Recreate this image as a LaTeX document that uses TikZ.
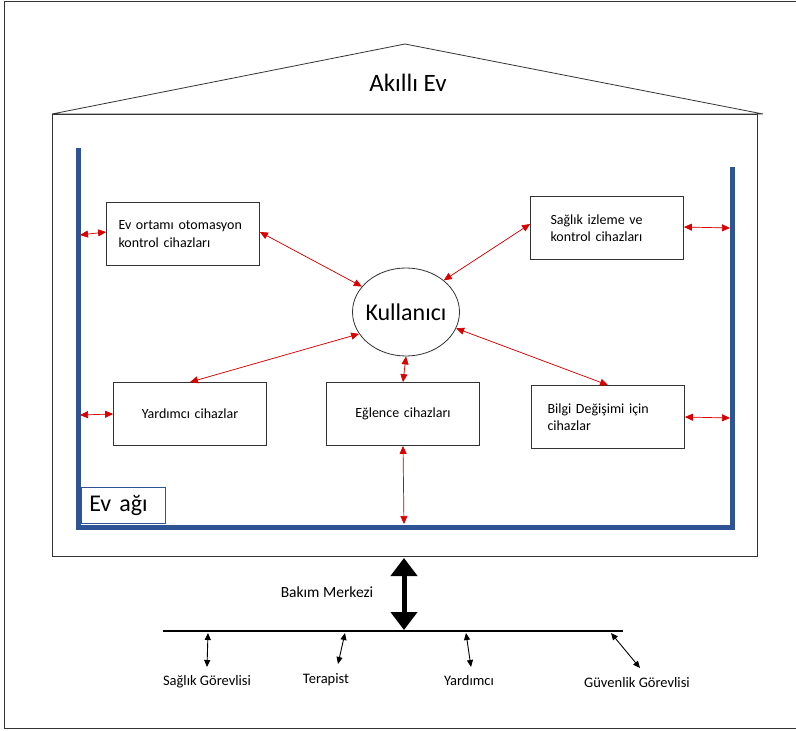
\documentclass[tikz,border=0pt]{standalone}
\usepackage{fontspec}
\setmainfont{Carlito}
\usetikzlibrary{arrows.meta,shapes.geometric,calc}
\begin{document}
\begin{tikzpicture}[x=1pt,y=-1pt,
  box/.style={draw=black!80,line width=0.8pt,fill=white,minimum width=153pt,minimum height=63pt,font=\fontsize{14}{17.5}\selectfont,text width=129pt,align=left,inner sep=0pt},
  redarrow/.style={draw=red!85!black,line width=0.7pt,{Triangle[length=8pt,width=7pt]}-{Triangle[length=8pt,width=7pt]},fill=red},
  blackarrow/.style={draw=black,line width=0.9pt,{Triangle[length=7pt,width=6pt]}-{Triangle[length=7pt,width=6pt]}},
  blueline/.style={draw={rgb,255:red,47;green,84;blue,150},line width=5pt},
  lbl/.style={font=\fontsize{14.5}{17}\selectfont,inner sep=1pt}]
\useasboundingbox (0,0) rectangle (796,731);
% outer frame
\draw[black!80,line width=0.8pt] (796,1) -- (4,1) -- (4,728) -- (796,728);
% house
\coordinate (rl) at (52,114);
\coordinate (rr) at (763,114);
\coordinate (apex) at (405,44);
\draw[black!80,line width=0.8pt] (rl) -- (apex) -- (rr) -- (rl);
\draw[black!80,line width=0.8pt] (52,114) rectangle (757,556);
\node[font=\fontsize{25}{30}\selectfont] (title) at (408,83) {Akıllı Ev};
% blue network
\draw[blueline] (78,148) -- (78,527) -- (732,527) -- (732,167);
\coordinate (bl1) at (80,235);
\coordinate (bl2) at (80,415);
\coordinate (br1) at (730,228);
\coordinate (br2) at (730,418);
\coordinate (bb) at (404,524);
\node[draw={rgb,255:red,47;green,84;blue,150},line width=0.6pt,fill=white,minimum width=82pt,minimum height=36pt,text width=68pt,align=left,inner xsep=8pt,inner ysep=0pt,anchor=north west,font=\fontsize{24}{28}\selectfont] (evagi) at (81,487) {Ev ağı};
% boxes
\node[box] (ev) at (183,234) {Ev ortamı otomasyon\\kontrol cihazları};
\node[box,text width=113pt] (sag) at (607,228) {Sağlık izleme ve\\kontrol cihazları};
\node[box,align=center] (yar) at (190,414) {Yardımcı cihazlar};
\node[box,align=center] (egl) at (403,414) {Eğlence cihazları};
\node[box,text width=121pt] (bil) at (608,417) {Bilgi Değişimi için\\cihazlar};
% user
\node[draw=black!80,line width=0.8pt,ellipse,minimum width=107pt,minimum height=88pt,inner sep=0pt,fill=white,font=\fontsize{24}{28}\selectfont] (user) at (406,312) {\makebox[0pt]{Kullanıcı}};
% red arrows
\draw[redarrow] (bl1) -- ([yshift=2pt]ev.west);
\draw[redarrow] ([yshift=2pt]ev.east) -- (user.150);
\draw[redarrow] ([yshift=4pt]sag.west) -- (user.40);
\draw[redarrow] ([yshift=1pt]sag.east) -- (br1);
\draw[redarrow] (user.205) -- (yar.north);
\draw[redarrow] (bl2) -- (yar.west);
\draw[redarrow] (user.south) -- (egl.north);
\draw[redarrow] (user.-18) -- (bil.north);
\draw[redarrow] (bil.east) -- (br2);
\draw[redarrow] (egl.south) -- (bb);
% care center
\coordinate (hb) at (404,556);
\coordinate (bus) at (404,631);
\draw[line width=5pt,{Triangle[length=18pt,width=26pt]}-{Triangle[length=18pt,width=26pt]}] ($(hb)+(0,2)$) -- ($(bus)+(0,-1)$);
\node[lbl,font=\fontsize{15.5}{18}\selectfont] (bakim) at (327,592) {Bakım Merkezi};
\coordinate (busl) at (163,631);
\coordinate (busr) at (623,631);
\draw[line width=2.2pt] (busl) -- (busr);
% staff
\node[lbl] (s1) at (207,682) {Sağlık Görevlisi};
\node[lbl] (s2) at (326,680) {Terapist};
\node[lbl] (s3) at (469,681) {Yardımcı};
\node[lbl] (s4) at (637,683) {Güvenlik Görevlisi};
\coordinate (a1) at (208,633);
\coordinate (b1) at (207,667);
\coordinate (a2) at (345,633);
\coordinate (b2) at (338,664);
\coordinate (a3) at (466,633);
\coordinate (b3) at (471,667);
\coordinate (a4) at (611,633);
\coordinate (b4) at (640,668);
\draw[blackarrow] (a1) -- (b1);
\draw[blackarrow] (a2) -- (b2);
\draw[blackarrow] (a3) -- (b3);
\draw[blackarrow] (a4) -- (b4);
\end{tikzpicture}
\end{document}
